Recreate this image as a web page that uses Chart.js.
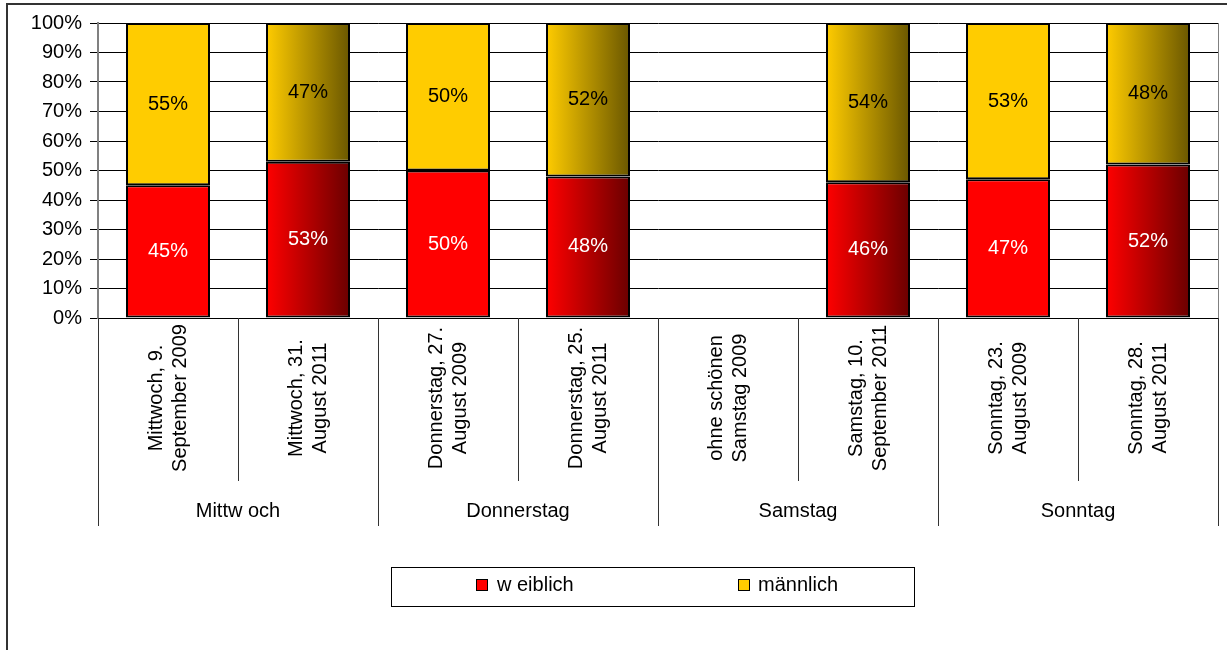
<!DOCTYPE html>
<html>
<head>
<meta charset="utf-8">
<script src="https://cdn.jsdelivr.net/npm/chart.js@4.4.1/dist/chart.umd.min.js"></script>
<style>
  html, body { margin: 0; background: #fff; }
</style>
</head>
<body>
<canvas id="chart" width="1227" height="650"></canvas>
<script>
// Wochentage (obere Gruppe) und die einzelnen Termine darunter
const days = ['Mittw och', 'Donnerstag', 'Samstag', 'Sonntag'];
const dates = [
  ['Mittwoch, 9.', 'September 2009'],
  ['Mittwoch, 31.', 'August 2011'],
  ['Donnerstag, 27.', 'August 2009'],
  ['Donnerstag, 25.', 'August 2011'],
  ['ohne schönen', 'Samstag 2009'],
  ['Samstag, 10.', 'September 2011'],
  ['Sonntag, 23.', 'August 2009'],
  ['Sonntag, 28.', 'August 2011']
];
const weiblich = [45, 53, 50, 48, null, 46, 47, 52];
const maennlich = [55, 47, 50, 52, null, 54, 53, 48];
const is2011 = [false, true, false, true, false, true, false, true];
const yTicks = [0, 10, 20, 30, 40, 50, 60, 70, 80, 90, 100];

const FONT = "'Liberation Sans', Arial, sans-serif";
const SIZE = 20;

// 2011er Balken bekommen einen Verlauf nach rechts ins Dunkle
function barFill(base, dark) {
  return c => {
    const chart = c.chart;
    if (!is2011[c.dataIndex] || !chart.chartArea) return base;
    const x = chart.scales.x.getPixelForValue(c.dataIndex);
    const half = chart.scales.x.width / dates.length * 0.6 / 2;
    const g = chart.ctx.createLinearGradient(x - half, 0, x + half, 0);
    g.addColorStop(0, base);
    g.addColorStop(1, dark);
    return g;
  };
}

const decorations = {
  id: 'decorations',
  afterDraw(chart) {
    const ctx = chart.ctx;
    const xs = chart.scales.x;
    const area = chart.chartArea;
    const step = xs.width / dates.length;
    ctx.save();

    // Rahmen ums ganze Diagramm
    ctx.strokeStyle = '#333';
    ctx.lineWidth = 2;
    ctx.beginPath();
    ctx.moveTo(7, 650);
    ctx.lineTo(7, 4);
    ctx.lineTo(1227, 4);
    ctx.stroke();

    // rechter Rand der Zeichenfläche
    ctx.strokeStyle = '#808080';
    ctx.lineWidth = 1;
    ctx.beginPath();
    ctx.moveTo(area.right + 0.5, area.top);
    ctx.lineTo(area.right + 0.5, area.bottom);
    ctx.stroke();

    // Trennlinien der Kategorien: kurz zwischen Terminen, lang zwischen Tagen
    ctx.strokeStyle = '#333';
    for (let i = 0; i <= dates.length; i++) {
      const bx = Math.round(xs.getPixelForValue(i) - step / 2) + 0.5;
      const len = (i % 2 === 0) ? 208 : 163;
      ctx.beginPath();
      ctx.moveTo(bx, area.bottom);
      ctx.lineTo(bx, area.bottom + len);
      ctx.stroke();
    }

    ctx.fillStyle = '#000';
    ctx.font = SIZE + 'px ' + FONT;
    ctx.textAlign = 'center';
    ctx.textBaseline = 'middle';

    // Termine, senkrecht gedreht
    dates.forEach((lines, i) => {
      const cx = xs.getPixelForValue(i);
      ctx.save();
      ctx.translate(cx, area.bottom + 80);
      ctx.rotate(-Math.PI / 2);
      ctx.fillText(lines[0], 0, -12);
      ctx.fillText(lines[1], 0, 12);
      ctx.restore();
    });

    // Wochentage
    days.forEach((d, k) => {
      const cx = (xs.getPixelForValue(2 * k) + xs.getPixelForValue(2 * k + 1)) / 2;
      ctx.fillText(d, cx, area.bottom + 193);
    });

    // Legende
    ctx.strokeStyle = '#000';
    ctx.lineWidth = 1;
    ctx.strokeRect(391.5, 567.5, 523, 39);
    ctx.textAlign = 'left';
    const items = [
      { x: 476, tx: 497, ds: chart.data.datasets[0] },
      { x: 738, tx: 758, ds: chart.data.datasets[1] }
    ];
    items.forEach(it => {
      ctx.fillStyle = it.ds.solid;
      ctx.fillRect(it.x + 0.5, 579.5, 11, 11);
      ctx.strokeRect(it.x + 0.5, 579.5, 11, 11);
      ctx.fillStyle = '#000';
      ctx.fillText(it.ds.label, it.tx, 585);
    });
    ctx.restore();
  },
  afterDatasetsDraw(chart) {
    // Prozentwerte mittig in jedes Segment
    const ctx = chart.ctx;
    ctx.save();
    ctx.font = SIZE + 'px ' + FONT;
    ctx.textAlign = 'center';
    ctx.textBaseline = 'middle';
    chart.data.datasets.forEach((ds, di) => {
      ctx.fillStyle = di === 0 ? '#fff' : '#000';
      chart.getDatasetMeta(di).data.forEach((bar, i) => {
        if (ds.data[i] == null) return;
        ctx.fillText(ds.data[i] + '%', bar.x, (bar.y + bar.base) / 2);
      });
    });
    ctx.restore();
  }
};

new Chart(document.getElementById('chart'), {
  type: 'bar',
  data: {
    labels: dates,
    datasets: [
      {
        label: 'w eiblich',
        data: weiblich,
        solid: '#FF0000',
        backgroundColor: barFill('#FF0000', '#6A0000'),
        borderColor: '#000',
        borderWidth: 2,
        borderSkipped: false
      },
      {
        label: 'männlich',
        data: maennlich,
        solid: '#FFCC00',
        backgroundColor: barFill('#FFCC00', '#6A5700'),
        borderColor: '#000',
        borderWidth: 2,
        borderSkipped: false
      }
    ]
  },
  options: {
    responsive: false,
    devicePixelRatio: 1,
    animation: false,
    datasets: { bar: { barPercentage: 0.6, categoryPercentage: 1 } },
    layout: { padding: { left: 0, right: 9, top: 23, bottom: 0 } },
    plugins: { legend: { display: false }, tooltip: { enabled: false } },
    scales: {
      x: {
        stacked: true,
        ticks: { display: false },
        grid: { display: false },
        border: { display: false },
        afterFit: s => { s.height = 332; }
      },
      y: {
        stacked: true,
        min: 0,
        max: 100,
        afterBuildTicks: s => { s.ticks = yTicks.map(v => ({ value: v })); },
        ticks: {
          color: '#000',
          font: { family: FONT, size: SIZE },
          padding: 8,
          callback: v => v + '%'
        },
        grid: { color: '#000', lineWidth: 1, tickLength: 8 },
        border: { color: '#808080', width: 2 },
        afterFit: s => { s.width = 98; }
      }
    }
  },
  plugins: [decorations]
});
</script>
</body>
</html>
